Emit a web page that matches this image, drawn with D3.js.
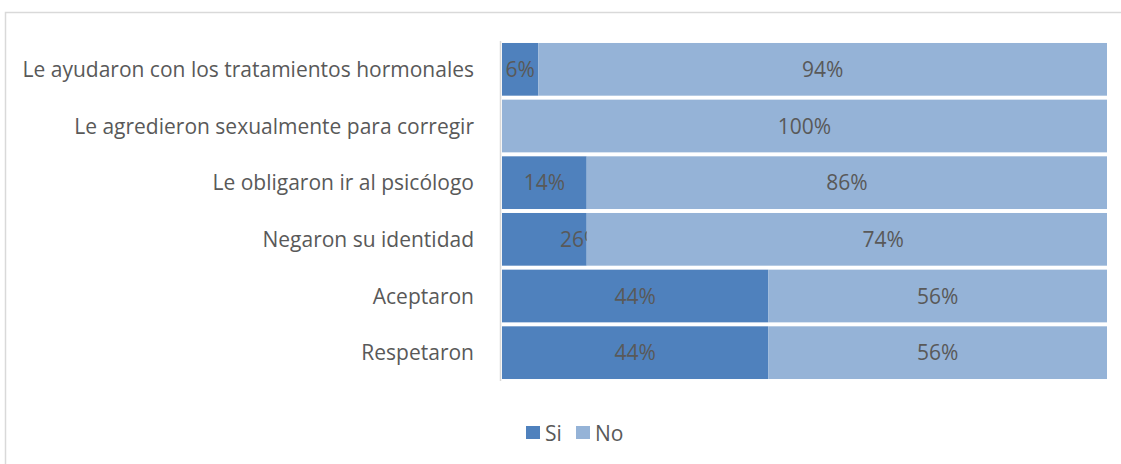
<!DOCTYPE html>
<html>
<head>
<meta charset="utf-8">
<script src="https://cdn.jsdelivr.net/npm/d3@7"></script>
<style>
  body { margin: 0; background: #fff; }
  svg { display: block; font-family: 'Open Sans', sans-serif; }
</style>
</head>
<body>
<svg class="chart"></svg>
<script>
// categories, top to bottom
const categories = [
    'Le ayudaron con los tratamientos hormonales',
    'Le agredieron sexualmente para corregir',
    'Le obligaron ir al psicólogo',
    'Negaron su identidad',
    'Aceptaron',
    'Respetaron'
]

// "Si" share as labelled, and the length of the "Si" bar as drawn
const siValues = [6, 0, 14, 26, 44, 44]
const siBarValues = [6, 0, 14, 14, 44, 44]
const noValues = [94, 100, 86, 74, 56, 56]

const siLabels = ['6%', '', '14%', '26%', '44%', '44%']
const noLabels = ['94%', '100%', '86%', '74%', '56%', '56%']

const series = ['Si', 'No']
const colors = ['#4f81bd', '#95b3d7']

const width = 1121
const height = 464

const svg = d3.select('.chart')
    .attr('width', width)
    .attr('height', height)

// outer chart frame (only top and left edges fall in view)
svg.append('rect')
    .attr('x', 5.5)
    .attr('y', 12.5)
    .attr('width', width + 20)
    .attr('height', height + 20)
    .attr('fill', 'none')
    .attr('stroke', '#d9d9d9')
    .attr('stroke-width', 1.5)

const xScale = d3.scaleLinear()
    .domain([0, 100])
    .range([502, 1107])

const yScale = d3.scaleBand()
    .domain(categories)
    .range([41, 381])
    .paddingInner(0.07)
    .paddingOuter(0.035)

const rows = categories.map((c, i) => ({
    cat: c,
    si: siValues[i],
    siBar: siBarValues[i],
    no: noValues[i],
    siLabel: siLabels[i],
    noLabel: noLabels[i]
}))

const labelColor = '#595959'
const fontSize = 21

// Si bars and their labels first, so the No bars sit on top
svg.selectAll('.si-bar')
    .data(rows)
    .enter()
    .append('rect')
    .attr('class', 'si-bar')
    .attr('x', xScale(0))
    .attr('y', d => yScale(d.cat))
    .attr('width', d => xScale(d.siBar) - xScale(0))
    .attr('height', yScale.bandwidth())
    .attr('fill', colors[0])

svg.selectAll('.si-label')
    .data(rows.filter(d => d.siLabel))
    .enter()
    .append('text')
    .attr('class', 'si-label')
    .attr('x', d => xScale(d.si / 2))
    .attr('y', d => yScale(d.cat) + yScale.bandwidth() / 2)
    .attr('dy', '0.36em')
    .attr('text-anchor', 'middle')
    .attr('font-size', fontSize)
    .attr('fill', labelColor)
    .text(d => d.siLabel)

svg.selectAll('.no-bar')
    .data(rows)
    .enter()
    .append('rect')
    .attr('class', 'no-bar')
    .attr('x', d => xScale(d.siBar))
    .attr('y', d => yScale(d.cat))
    .attr('width', d => xScale(100) - xScale(d.siBar))
    .attr('height', yScale.bandwidth())
    .attr('fill', colors[1])

svg.selectAll('.no-label')
    .data(rows)
    .enter()
    .append('text')
    .attr('class', 'no-label')
    .attr('x', d => xScale(100 - d.no / 2))
    .attr('y', d => yScale(d.cat) + yScale.bandwidth() / 2)
    .attr('dy', '0.36em')
    .attr('text-anchor', 'middle')
    .attr('font-size', fontSize)
    .attr('fill', labelColor)
    .text(d => d.noLabel)

// vertical category axis line
svg.append('line')
    .attr('x1', 500.5)
    .attr('x2', 500.5)
    .attr('y1', 41)
    .attr('y2', 381)
    .attr('stroke', '#d9d9d9')
    .attr('stroke-width', 1.5)

// category labels
svg.selectAll('.cat-label')
    .data(categories)
    .enter()
    .append('text')
    .attr('class', 'cat-label')
    .attr('x', 474)
    .attr('y', d => yScale(d) + yScale.bandwidth() / 2)
    .attr('dy', '0.36em')
    .attr('text-anchor', 'end')
    .attr('font-size', fontSize)
    .attr('fill', labelColor)
    .text(d => d)

// legend
const legendX = [526, 576]
const legend = svg.selectAll('.legend')
    .data(series)
    .enter()
    .append('g')
    .attr('class', 'legend')
    .attr('transform', (d, i) => `translate(${legendX[i]}, 433)`)

legend.append('rect')
    .attr('x', 0)
    .attr('y', -7)
    .attr('width', 14)
    .attr('height', 13)
    .attr('fill', (d, i) => colors[i])

legend.append('text')
    .attr('x', 19)
    .attr('dy', '0.36em')
    .attr('font-size', fontSize)
    .attr('fill', labelColor)
    .text(d => d)
</script>
</body>
</html>
